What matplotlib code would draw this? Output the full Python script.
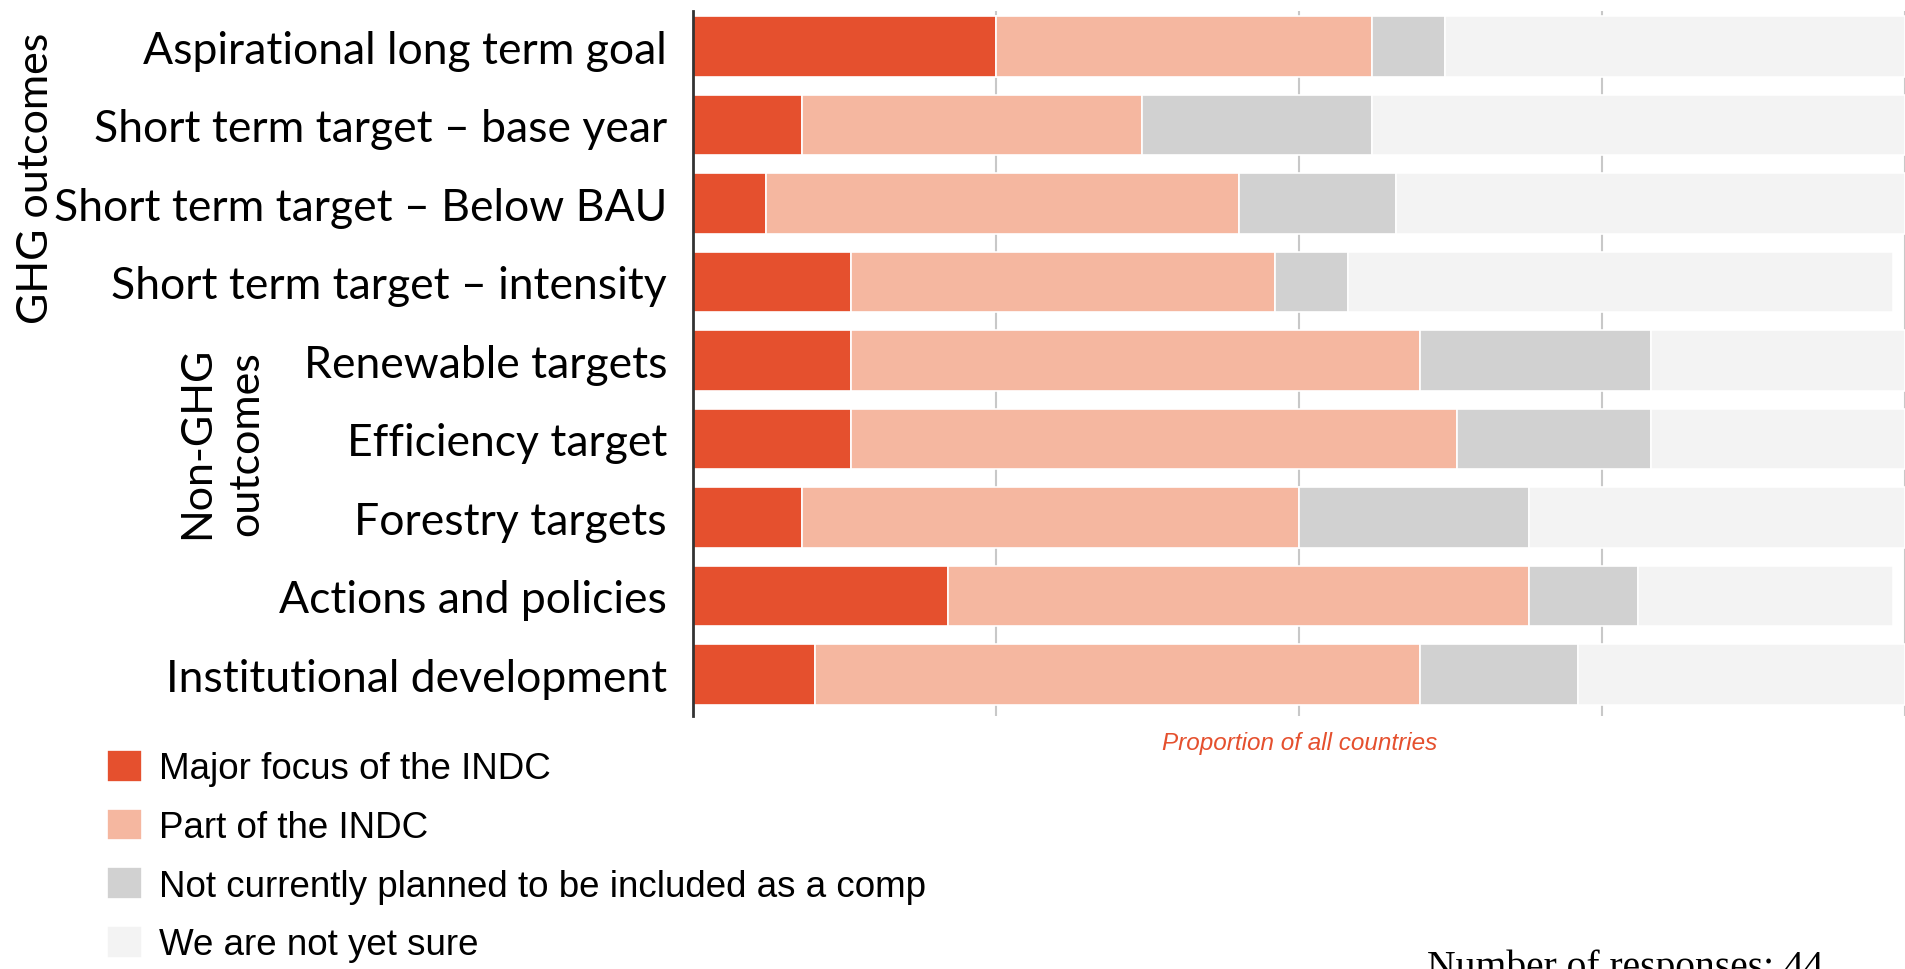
import numpy as np
import matplotlib
matplotlib.use("Agg")
import matplotlib.pyplot as plt

# Survey results, percent of countries per component
categories = [
    "Aspirational long term goal",
    "Short term target \u2013 base year",
    "Short term target \u2013 Below BAU",
    "Short term target \u2013 intensity",
    "Renewable targets",
    "Efficiency target",
    "Forestry targets",
    "Actions and policies",
    "Institutional development",
]
major_focus = [25, 9, 6, 13, 13, 13, 9, 21, 10]
part_of = [31, 28, 39, 35, 47, 50, 41, 48, 50]
not_planned = [6, 19, 13, 6, 19, 16, 19, 9, 13]
not_sure = [38, 44, 42, 45, 21, 21, 31, 21, 27]

series_names = [
    "Major focus of the INDC",
    "Part of the INDC",
    "Not currently planned to be included as a comp",
    "We are not yet sure",
]
colors = ["#E5502E", "#F5B7A0", "#D1D1D1", "#F3F3F3"]

label_font = ["Lato", "DejaVu Sans"]
arial = ["Liberation Sans Narrow", "Liberation Sans", "DejaVu Sans"]

fig = plt.figure(figsize=(19.05, 9.70), dpi=100)
ax = fig.add_axes([0.364, 0.2608, 0.636, 0.7268])

y = np.arange(len(categories))
left = np.zeros(len(categories))
handles = []
for vals, col in zip([major_focus, part_of, not_planned, not_sure], colors):
    vals = np.array(vals, dtype=float)
    h = ax.barh(y, vals, left=left, height=0.77, color=col,
                edgecolor="white", linewidth=1.2, zorder=2)
    handles.append(h)
    left += vals

ax.set_xlim(0, 100)
ax.set_ylim(8.53, -0.45)
ax.set_xticks([0, 25, 50, 75, 100])
ax.set_xticklabels([])
ax.tick_params(axis="x", length=0)
ax.tick_params(axis="y", length=0, pad=19)
ax.set_yticks(y)
ax.set_yticklabels(categories, fontsize=32, family=label_font)
ax.grid(axis="x", color="#C8C8C8", linewidth=1.5, zorder=0)
ax.set_axisbelow(True)
for s in ["top", "right", "bottom"]:
    ax.spines[s].set_visible(False)
ax.spines["left"].set_color("#333333")
ax.spines["left"].set_linewidth(2)

ax.set_xlabel("Proportion of all countries", color="#E5502E", style="italic",
              fontsize=17.5, family=arial, labelpad=7)

# group labels
fig.text(0.019, 0.8165, "GHG outcomes", rotation=90, ha="center", va="center",
         fontsize=31, family=label_font)
fig.text(0.1165, 0.543, "Non-GHG\noutcomes", rotation=90, ha="center",
         va="center", fontsize=31, family=label_font, linespacing=1.35)

fig.legend(handles, series_names, loc="upper left",
           bbox_to_anchor=(0.0485, 0.241), frameon=False,
           prop={"family": arial, "size": 26.5},
           handlelength=0.95, handleheight=0.95, labelspacing=0.6,
           handletextpad=0.45, borderaxespad=0)

fig.text(0.749, 0.021, "Number of responses: 44", ha="left", va="top",
         fontsize=28.5, family=["Liberation Serif", "DejaVu Serif"])

fig.savefig("out.png", dpi=100)
